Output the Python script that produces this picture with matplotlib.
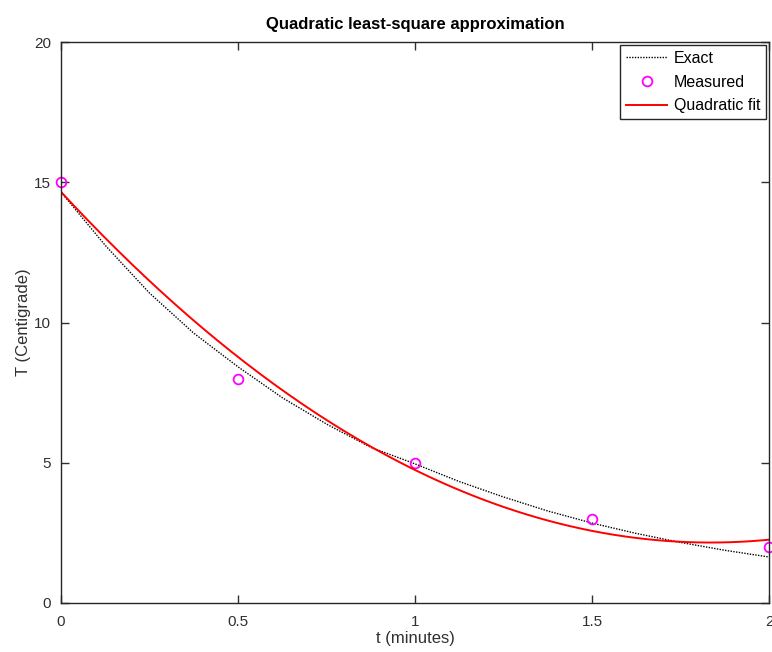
import numpy as np
import matplotlib
matplotlib.use("Agg")
import matplotlib.pyplot as plt

plt.rcParams['font.family'] = ['Liberation Sans', 'DejaVu Sans']

# Measured data
t_meas = [0, 0.5, 1, 1.5, 2]
T_meas = [15, 8, 5, 3, 2]

# Exact curve
t_exact = [0, 0.125, 0.25, 0.375, 0.5, 0.625, 0.75, 0.875, 1.0,
           1.125, 1.25, 1.375, 1.5, 1.625, 1.75, 1.875, 2.0]
T_exact = [14.65, 12.75, 11.05, 9.62, 8.42, 7.32, 6.38, 5.55, 4.96,
           4.33, 3.78, 3.28, 2.85, 2.48, 2.16, 1.88, 1.64]

xticks = [0, 0.5, 1, 1.5, 2]
xticklabels = ['0', '0.5', '1', '1.5', '2']
yticks = [0, 5, 10, 15, 20]

# Quadratic least-squares fit of the measured data
coef = np.polyfit(t_meas, T_meas, 2)
t_fit = np.linspace(0, 2, 200)
T_fit = np.polyval(coef, t_fit)

txt = '#303030'
fig = plt.figure(figsize=(7.72, 6.52), dpi=100)
ax = fig.add_axes([61/772, 49/652, 708/772, 561/652])

ax.plot(t_exact, T_exact, color='black', linestyle=(0, (1, 1)), linewidth=1.0, label='Exact')
ax.plot(t_meas, T_meas, linestyle='none', marker='o', markersize=7, markerfacecolor='none',
        markeredgecolor='#ff00ff', markeredgewidth=1.3, label='Measured', clip_on=False)
ax.plot(t_fit, T_fit, color='#ff0000', linewidth=1.4, label='Quadratic fit')

ax.set_xlim(0, 2)
ax.set_ylim(0, 20)
ax.set_xticks(xticks)
ax.set_xticklabels(xticklabels)
ax.set_yticks(yticks)
ax.tick_params(direction='in', top=True, right=True, length=6, width=1, labelsize=11, colors=txt)
ax.tick_params(axis='x', pad=9)
ax.tick_params(axis='y', pad=7)
for s in ax.spines.values():
    s.set_linewidth(1.0)
    s.set_color('#262626')

ax.set_xlabel('t (minutes)', fontsize=12, color=txt, labelpad=1)
ax.set_ylabel('T (Centigrade)', fontsize=12, color=txt, labelpad=2)
ax.set_title('Quadratic least-square approximation', fontsize=12, fontweight='bold', pad=9)

leg = ax.legend(loc='upper right', fontsize=11.5, frameon=True, fancybox=False,
                borderaxespad=0.2, handlelength=2.6, handletextpad=0.4,
                labelspacing=0.55, borderpad=0.35)
leg.get_frame().set_edgecolor('#262626')
leg.get_frame().set_linewidth(1.0)
leg.get_frame().set_alpha(1)

fig.savefig('out.png', dpi=100)
